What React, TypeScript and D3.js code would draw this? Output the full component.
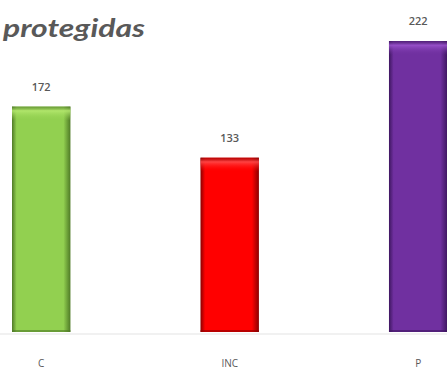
import React from "react";
import * as d3 from "d3";

const categories = ["C", "INC", "P"];
const values = [172, 133, 222];
const colors = [
  { base: "#92d050", dark: "#4f7a26", light: "#b4e86e" },
  { base: "#ff0000", dark: "#8a0000", light: "#ff4a4a" },
  { base: "#7030a0", dark: "#3e1660", light: "#9a52cc" },
];
const title = "protegidas";

const W = 447;
const H = 372;
const baseY = 332;

export default function App() {
  const x = d3
    .scaleBand<string>()
    .domain(categories)
    .range([12, 447.4])
    .paddingInner(0.69)
    .paddingOuter(0);
  const y = d3.scaleLinear().domain([0, 222]).range([baseY, 41]);

  return (
    <svg
      width={W}
      height={H}
      style={{ position: "absolute", left: 0, top: 0, background: "#fff" }}
    >
      <defs>
        {colors.map((c, i) => (
          <React.Fragment key={i}>
            <linearGradient id={`g${i}`} x1="0" x2="1" y1="0" y2="0">
              <stop offset="0" stopColor={c.dark} />
              <stop offset="0.08" stopColor={c.base} />
              <stop offset="0.5" stopColor={c.base} />
              <stop offset="0.88" stopColor={c.base} />
              <stop offset="1" stopColor={c.dark} />
            </linearGradient>
            <linearGradient id={`t${i}`} x1="0" x2="0" y1="0" y2="1">
              <stop offset="0" stopColor={c.dark} stopOpacity={0.6} />
              <stop offset="0.3" stopColor={c.light} stopOpacity={0.9} />
              <stop offset="1" stopColor={c.base} stopOpacity={0} />
            </linearGradient>
          </React.Fragment>
        ))}
      </defs>
      <text
        x={3}
        y={37}
        fontFamily="Lato, 'Open Sans', sans-serif"
        fontStyle="italic"
        fontWeight="bold"
        fontSize={25}
        fill="#595959"
        textLength={142}
        lengthAdjust="spacingAndGlyphs"
      >
        {title}
      </text>
      <line x1={0} x2={W} y1={baseY + 2} y2={baseY + 2} stroke="#e3e3e3" strokeWidth={1} />
      {categories.map((cat, i) => {
        const bx = x(cat)!;
        const bw = x.bandwidth();
        const top = y(values[i]);
        return (
          <g key={cat}>
            <rect x={bx} y={top} width={bw} height={baseY - top} fill={`url(#g${i})`} />
            <rect x={bx} y={top} width={bw} height={14} fill={`url(#t${i})`} />
            <rect x={bx} y={baseY - 2} width={bw} height={2} fill={colors[i].dark} opacity={0.6} />
            <text
              x={bx + bw / 2}
              y={top - 16}
              textAnchor="middle"
              fontFamily="'Open Sans', sans-serif"
              fontSize={11}
              fontWeight={600}
              fill="#595959"
            >
              {values[i]}
            </text>
            <text
              x={bx + bw / 2}
              y={367}
              textAnchor="middle"
              fontFamily="'Open Sans', sans-serif"
              fontSize={10}
              fill="#595959"
            >
              {cat}
            </text>
          </g>
        );
      })}
    </svg>
  );
}
